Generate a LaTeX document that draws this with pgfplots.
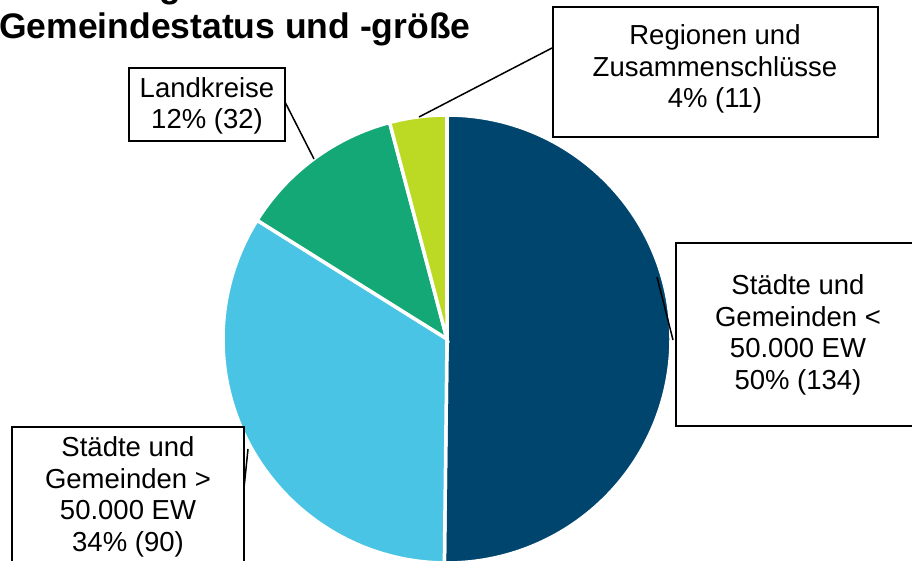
\documentclass[border=0pt]{standalone}
\usepackage{pgfplots}
\pgfplotsset{compat=1.18}
\usepackage{pgfplotstable}
\usepackage{fontspec}
\setmainfont{Liberation Sans}
\definecolor{cDark}{HTML}{00456E}
\definecolor{cLight}{HTML}{49C4E4}
\definecolor{cGreen}{HTML}{13A876}
\definecolor{cLime}{HTML}{BCD924}

% slices clockwise from 12 o'clock
\pgfplotstableread{
value col
134 cDark
90 cLight
32 cGreen
11 cLime
}\piedata

\begin{document}
\begin{tikzpicture}
\useasboundingbox (0,0) rectangle (912pt,561pt);
\begin{axis}[
    at={(0,0)}, anchor=south west,
    scale only axis, width=912pt, height=561pt,
    xmin=0, xmax=912, ymin=0, ymax=561, y dir=reverse,
    hide axis, clip=false,
  ]
  \pgfplotstablegetrowsof{\piedata}
  \pgfmathtruncatemacro\nrows{\pgfplotsretval-1}
  \gdef\pietotal{0}
  \foreach \i in {0,...,\nrows}{
    \pgfplotstablegetelem{\i}{value}\of\piedata
    \pgfmathsetmacro\t{\pietotal+\pgfplotsretval}
    \xdef\pietotal{\t}
  }
  \gdef\piecum{0}
  \foreach \i in {0,...,\nrows}{
    \pgfplotstablegetelem{\i}{value}\of\piedata
    \pgfmathsetmacro\a{360*(\pgfplotsretval/\pietotal)}
    \pgfplotstablegetelem{\i}{col}\of\piedata
    \let\c\pgfplotsretval
    \pgfmathsetmacro\s{90-\piecum}
    \pgfmathsetmacro\e{90-\piecum-\a}
    \edef\doslice{\noexpand\fill[fill=\c, draw=white, line width=3.5pt]
      (axis cs:447,339) -- ++(\s:224pt) arc[start angle=\s, end angle=\e, radius=224pt] -- cycle;}
    \doslice
    \pgfmathsetmacro\t{\piecum+\a}
    \xdef\piecum{\t}
  }

  % title (upper line mostly cut off at the top edge)
  \node[anchor=base west, inner sep=0, font=\fontsize{35.5}{41}\selectfont\bfseries] at (axis cs:9,-2) {Verteilung nach};
  \node[anchor=base west, inner sep=0, font=\fontsize{35.5}{41}\selectfont\bfseries] at (axis cs:-1,39) {Gemeindestatus und -größe};

  % label boxes and leaders
  \draw[line width=1.5pt] (axis cs:129,68) rectangle (axis cs:285,141);
  \draw[line width=1.5pt] (axis cs:553,7) rectangle (axis cs:878,137);
  \draw[line width=1.5pt] (axis cs:676,243) rectangle (axis cs:916,426);
  \draw[line width=1.5pt] (axis cs:12,427) rectangle (axis cs:244,575);
  \draw[line width=1.5pt] (axis cs:285,102) -- (axis cs:314,159);
  \draw[line width=1.5pt] (axis cs:419,117) -- (axis cs:552,48);
  \draw[line width=1.5pt] (axis cs:657,277) -- (axis cs:673,340);
  \draw[line width=1.5pt] (axis cs:248,449) -- (axis cs:244,488);

  \tikzset{lbl/.style={inner sep=0, align=center, font=\fontsize{27.5}{31.5}\selectfont}}
  \node[lbl] at (axis cs:207,106) {Landkreise\\12\% (32)};
  \node[lbl] at (axis cs:715,69) {Regionen und\\Zusammenschlüsse\\4\% (11)};
  \node[lbl] at (axis cs:798,335) {Städte und\\Gemeinden <\\50.000 EW\\50\% (134)};
  \node[lbl] at (axis cs:128,497) {Städte und\\Gemeinden >\\50.000 EW\\34\% (90)};
\end{axis}
\end{tikzpicture}
\end{document}
